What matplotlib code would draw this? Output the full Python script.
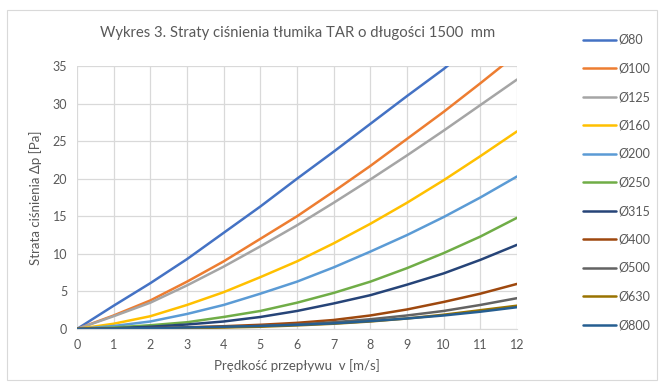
import numpy as np
import matplotlib.pyplot as plt
from matplotlib.patches import Rectangle

plt.rcParams['font.family'] = ['Lato', 'DejaVu Sans']

v = [0, 1, 2, 3, 4, 5, 6, 7, 8, 9, 10, 11, 12]
labels = ['Ø80', 'Ø100', 'Ø125', 'Ø160', 'Ø200', 'Ø250', 'Ø315', 'Ø400', 'Ø500', 'Ø630', 'Ø800']
d80 = [0, 3.1, 6.1, 9.3, 12.8, 16.3, 20.0, 23.6, 27.3, 31.0, 34.6, 38.6, 42.7]
d100 = [0, 1.8, 3.8, 6.3, 9.0, 12.0, 15.0, 18.3, 21.7, 25.3, 28.9, 32.7, 36.6]
d125 = [0, 1.7, 3.5, 5.8, 8.3, 11.0, 13.8, 16.8, 19.9, 23.1, 26.4, 29.8, 33.2]
d160 = [0, 0.7, 1.7, 3.2, 4.9, 6.9, 9.0, 11.4, 14.0, 16.8, 19.8, 23.0, 26.3]
d200 = [0, 0.4, 1.0, 2.0, 3.2, 4.7, 6.3, 8.2, 10.3, 12.5, 14.9, 17.5, 20.3]
d250 = [0, 0.2, 0.5, 0.9, 1.6, 2.4, 3.5, 4.8, 6.3, 8.1, 10.1, 12.3, 14.8]
d315 = [0, 0.1, 0.3, 0.6, 1.0, 1.6, 2.4, 3.4, 4.5, 5.9, 7.4, 9.2, 11.2]
d400 = [0, 0.05, 0.12, 0.22, 0.37, 0.56, 0.82, 1.2, 1.8, 2.6, 3.6, 4.7, 6.0]
d500 = [0, 0.02, 0.07, 0.15, 0.25, 0.4, 0.6, 0.9, 1.3, 1.8, 2.4, 3.2, 4.1]
d630 = [0, 0.02, 0.06, 0.12, 0.2, 0.3, 0.48, 0.7, 1.0, 1.4, 1.9, 2.5, 3.1]
d800 = [0, 0.05, 0.12, 0.2, 0.3, 0.4, 0.55, 0.75, 1.05, 1.4, 1.8, 2.3, 2.9]
series = [d80, d100, d125, d160, d200, d250, d315, d400, d500, d630, d800]
colors = ['#4472C4', '#ED7D31', '#A5A5A5', '#FFC000', '#5B9BD5', '#70AD47',
          '#264478', '#9E480E', '#636363', '#997300', '#255E91']

fig = plt.figure(figsize=(6.67, 3.85), dpi=100)
fig.patches.append(Rectangle((7/667, 1-380/385), 650/667, 370/385, transform=fig.transFigure,
                             fill=False, edgecolor='#D9D9D9', lw=0.8))
ax = fig.add_axes([77/667, 1-329/385, 440/667, 263/385])

for y, lab, c in zip(series, labels, colors):
    ax.plot(v, y, color=c, lw=1.8, label=lab, solid_capstyle='round')

ax.set_xlim(0, 12)
ax.set_ylim(0, 35)
ax.set_xticks(range(0, 13))
ax.set_yticks(range(0, 36, 5))
ax.grid(color='#D9D9D9', lw=0.9)
ax.set_axisbelow(True)
for s in ['top', 'right', 'left']:
    ax.spines[s].set_visible(False)
ax.spines['bottom'].set_color('#D9D9D9')
ax.tick_params(length=0, labelsize=9, labelcolor='#595959', pad=7)

ax.set_xlabel('Prędkość przepływu  v [m/s]', fontsize=9.5, color='#595959', labelpad=6)
ax.set_ylabel('Strata ciśnienia Δp [Pa]', fontsize=9.5, color='#595959', labelpad=8)
fig.text(298/667, 1-33/385, 'Wykres 3. Straty ciśnienia tłumika TAR o długości 1500  mm',
         ha='center', va='center', fontsize=10.7, color='#595959')

fig.legend(loc='upper left', bbox_to_anchor=(583/667, 1-34/385), frameon=False,
           fontsize=9, labelcolor='#595959', handlelength=2.6, handletextpad=0.2,
           labelspacing=1.32, borderpad=0, borderaxespad=0)

fig.savefig('out.png', dpi=100)
